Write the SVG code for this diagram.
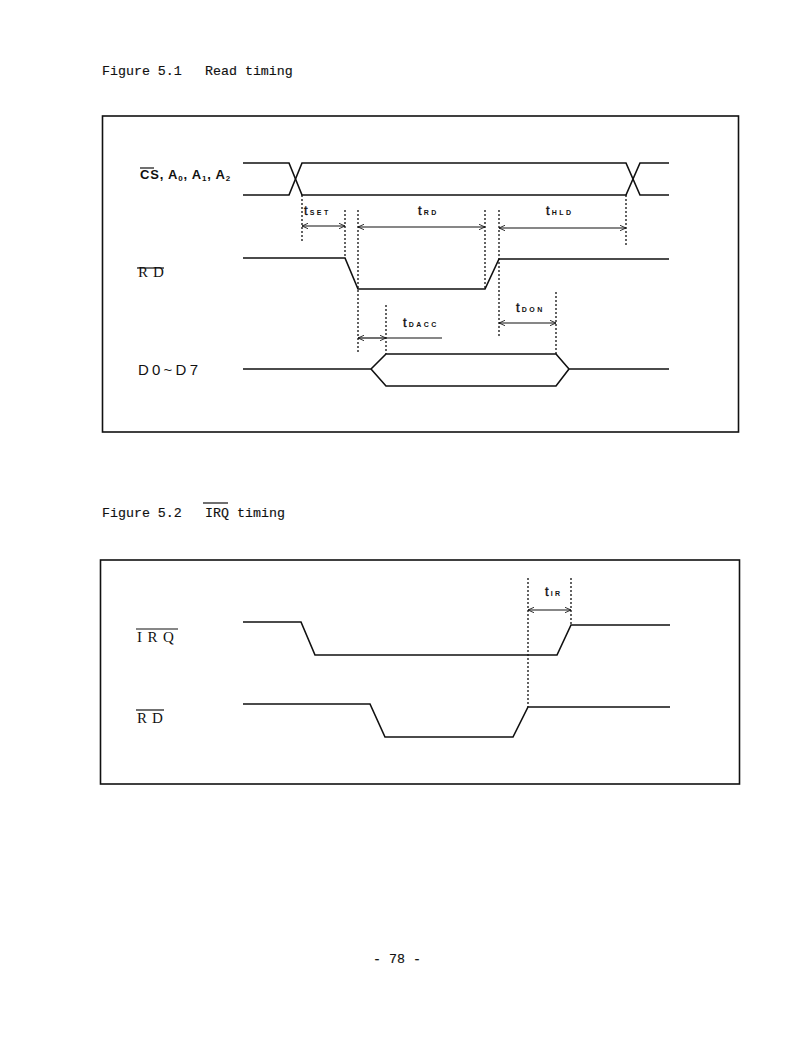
<svg xmlns="http://www.w3.org/2000/svg" width="809" height="1044" viewBox="0 0 809 1044">
<defs>
<marker id="ah" viewBox="0 0 10 10" refX="10" refY="5" markerWidth="6" markerHeight="6" markerUnits="userSpaceOnUse" orient="auto-start-reverse">
<path d="M0,0.5 L10,5 L0,9.5" fill="none" stroke="#111" stroke-width="1.4"/>
</marker>
<style>
.frame{fill:none;stroke:#111;stroke-width:1.6}
.sig{fill:none;stroke:#111;stroke-width:1.6;stroke-linejoin:miter}
.dot{fill:none;stroke:#111;stroke-width:1.3;stroke-dasharray:2 2}
.dim{fill:none;stroke:#111;stroke-width:1.2;marker-start:url(#ah);marker-end:url(#ah)}
.ln{fill:none;stroke:#111;stroke-width:1.2}
.title{font-family:"Liberation Mono",monospace;font-size:13.3px;fill:#111;stroke:#111;stroke-width:0.15}
.lab{font-family:"Liberation Serif",serif;font-size:15px;fill:#111}
.labs{font-family:"Liberation Sans",sans-serif;font-size:15px;fill:#111}
.cs{font-family:"Liberation Sans",sans-serif;font-size:13px;font-weight:bold;fill:#111}
.t{font-family:"Liberation Sans",sans-serif;font-size:13px;fill:#111;stroke:#111;stroke-width:0.4}
.sub{font-family:"Liberation Sans",sans-serif;font-size:7px;font-weight:bold;letter-spacing:2.5px;fill:#111;stroke:none}
.ov{stroke:#111;stroke-width:1.2}
</style>
</defs>
<rect width="809" height="1044" fill="#fff"/>

<g id="title1">
<text class="title" x="102" y="75">Figure 5.1</text>
<text class="title" x="205" y="75">Read timing</text>
</g>
<g id="frame1"><rect class="frame" x="102.5" y="116" width="636" height="316"/></g>

<g id="sig-cs">
<text class="cs" x="140" y="179" letter-spacing="0.8">CS, A<tspan font-size="8" dy="2">0</tspan><tspan dy="-2">, A</tspan><tspan font-size="8" dy="2">1</tspan><tspan dy="-2">, A</tspan><tspan font-size="8" dy="2">2</tspan></text>
<line class="ov" x1="140" y1="168" x2="154" y2="168"/>
<path class="sig" d="M243,163 H289 L302,195 H626 L640,163 H669"/>
<path class="sig" d="M243,195 H289 L302,163 H626 L640,195 H669"/>
</g>

<g id="sig-rd1">
<text class="lab" x="138" y="277" letter-spacing="5">RD</text>
<line class="ov" x1="137" y1="268" x2="164" y2="268"/>
<path class="sig" d="M243,258 H345 L358,289 H485 L499,259 H669"/>
</g>

<g id="sig-data">
<text class="labs" x="138" y="375" textLength="60" lengthAdjust="spacing">D0~D7</text>
<path class="sig" d="M243,369 H371 L386,354 H556 L569,369 H669"/>
<path class="sig" d="M371,369 L386,386 H556 L569,369"/>
</g>

<g id="connectors">
<line class="dot" x1="302" y1="195" x2="302" y2="242"/>
<line class="dot" x1="345" y1="210" x2="345" y2="258"/>
<line class="dot" x1="358" y1="210" x2="358" y2="354"/>
<line class="dot" x1="485" y1="210" x2="485" y2="289"/>
<line class="dot" x1="499" y1="210" x2="499" y2="338"/>
<line class="dot" x1="626" y1="195" x2="626" y2="245"/>
<line class="dot" x1="386" y1="305" x2="386" y2="354"/>
<line class="dot" x1="556" y1="292" x2="556" y2="354"/>
<line class="dim" x1="302" y1="226" x2="345" y2="226"/>
<line class="dim" x1="358" y1="227" x2="485" y2="227"/>
<line class="dim" x1="499" y1="228" x2="626" y2="228"/>
<line class="dim" x1="358" y1="338" x2="386" y2="338"/>
<line class="ln" x1="386" y1="338" x2="442" y2="338"/>
<line class="dim" x1="499" y1="323" x2="556" y2="323"/>
<line class="dot" x1="528" y1="578" x2="528" y2="707"/>
<line class="dot" x1="571" y1="578" x2="571" y2="625"/>
<line class="dim" x1="528" y1="610" x2="571" y2="610"/>
</g>

<g id="label-tset"><text class="t" x="304" y="215">t<tspan class="sub" dx="2">SET</tspan></text></g>
<g id="label-trd"><text class="t" x="418" y="215">t<tspan class="sub" dx="2">RD</tspan></text></g>
<g id="label-thld"><text class="t" x="546" y="215">t<tspan class="sub" dx="2">HLD</tspan></text></g>
<g id="label-tdacc"><text class="t" x="403" y="327">t<tspan class="sub" dx="2">DACC</tspan></text></g>
<g id="label-tdon"><text class="t" x="516" y="312">t<tspan class="sub" dx="2">DON</tspan></text></g>

<g id="title2">
<text class="title" x="102" y="517">Figure 5.2</text>
<text class="title" x="205" y="517">IRQ</text>
<line class="ov" x1="203" y1="503" x2="228" y2="503"/>
<text class="title" x="237" y="517">timing</text>
</g>
<g id="frame2"><rect class="frame" x="100.5" y="560" width="639" height="224"/></g>

<g id="sig-irq">
<text class="lab" x="137" y="642" letter-spacing="5.5">IRQ</text>
<line class="ov" x1="136" y1="629" x2="178" y2="629"/>
<path class="sig" d="M243,622 H301 L315,655 H557 L571,625 H670"/>
</g>

<g id="sig-rd2">
<text class="lab" x="137" y="723" letter-spacing="5">RD</text>
<line class="ov" x1="136" y1="710" x2="164" y2="710"/>
<path class="sig" d="M243,704 H370 L385,737 H513 L528,707 H670"/>
</g>

<g id="label-tir"><text class="t" x="545" y="596">t<tspan class="sub" dx="2">IR</tspan></text></g>

<g id="page"><text class="title" x="373" y="963">- 78 -</text></g>
</svg>
